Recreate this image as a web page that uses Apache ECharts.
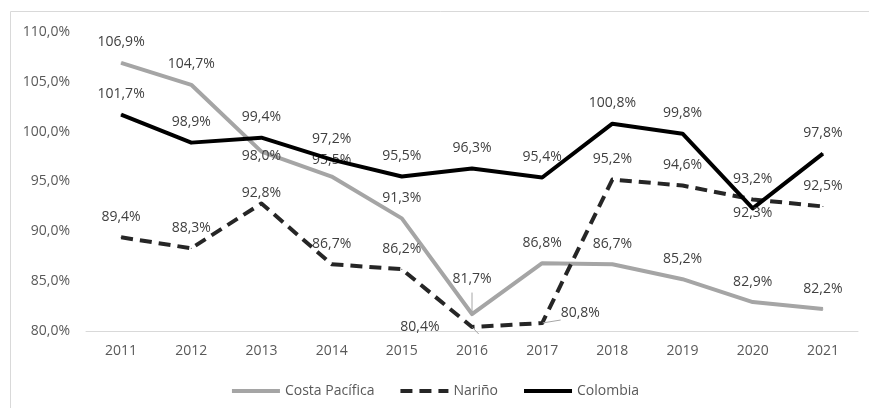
<!DOCTYPE html>
<html><head><meta charset="utf-8">
<script src="https://cdn.jsdelivr.net/npm/echarts@6/dist/echarts.min.js"></script>
<style>html,body{margin:0;padding:0;background:#fff}#c{width:869px;height:408px}</style>
</head><body><div id="c"></div>
<script>
const years = ['2011','2012','2013','2014','2015','2016','2017','2018','2019','2020','2021'];
const costaPacifica = [106.9,104.7,98.0,95.5,91.3,81.7,86.8,86.7,85.2,82.9,82.2];
const narino = [89.4,88.3,92.8,86.7,86.2,80.4,80.8,95.2,94.6,93.2,92.5];
const colombia = [101.7,98.9,99.4,97.2,95.5,96.3,95.4,100.8,99.8,92.3,97.8];
const yTicks = {min:80, max:110, interval:5};

const fmt = v => v.toFixed(1).replace('.', ',') + '%';
const FONT = 'Open Sans';
const labelBase = {show:true, position:'top', distance:13, color:'#404040', fontSize:14, fontFamily:FONT,
  formatter: p => fmt(p.value)};

const overrides = {
  '0-2': {label:{position:'bottom', distance:-3}},
  '2-9': {label:{position:'bottom', distance:-3}},
  '0-5': {label:{distance:28}, labelLine:{show:true}},
  '1-5': {label:{position:'left', distance:32}, labelLine:{show:true}},
  '1-6': {label:{position:'right', distance:18, offset:[0,-10]}, labelLine:{show:true}},
  '0-3': {label:{distance:9}},
  '1-2': {label:{distance:3}}
};
function build(arr, si){
  return arr.map((v,i)=>{
    const o = overrides[si+'-'+i];
    return o ? Object.assign({value:v}, o) : v;
  });
}
const chart = echarts.init(document.getElementById('c'), null, {renderer:'canvas'});
const mkSeries = (name, arr, si, color, type) => ({
  name, type:'line', data: build(arr, si),
  symbol:'circle', symbolSize:1, showSymbol:true,
  itemStyle:{color},
  lineStyle:{color, width:4, type, cap:'butt', join:'round'},
  label: labelBase,
  labelLine:{show:false, lineStyle:{color:'#a6a6a6', width:1}},
  emphasis:{disabled:true}, animation:false, z: si===0?2:3
});
chart.setOption({
  animation:false,
  grid:{left:86, right:11, top:32, bottom:77},
  graphic:[{type:'rect', shape:{x:10.5,y:11.5,width:900,height:450}, style:{fill:'none', stroke:'#d9d9d9', lineWidth:1}, silent:true}],
  legend:{bottom:5, left:'center', itemWidth:48, itemHeight:14, itemGap:24,
    textStyle:{color:'#595959', fontSize:14, fontFamily:FONT},
    data:['Costa Pacífica','Nariño','Colombia'],
    itemStyle:{opacity:0}, lineStyle:{width:4}},
  xAxis:{type:'category', data:years, boundaryGap:true,
    axisLine:{lineStyle:{color:'#d9d9d9', width:1}}, axisTick:{show:false},
    axisLabel:{color:'#595959', fontSize:14, fontFamily:FONT, margin:13}},
  yAxis:{type:'value', min:yTicks.min, max:yTicks.max, interval:yTicks.interval,
    axisLine:{show:false}, axisTick:{show:false}, splitLine:{show:false},
    axisLabel:{color:'#595959', fontSize:14, fontFamily:FONT, margin:16, formatter: v => fmt(v)}},
  series:[
    mkSeries('Costa Pacífica', costaPacifica, 0, '#a5a5a5', 'solid'),
    mkSeries('Nariño', narino, 1, '#262626', [12,7]),
    mkSeries('Colombia', colombia, 2, '#000000', 'solid')
  ]
});
</script></body></html>
